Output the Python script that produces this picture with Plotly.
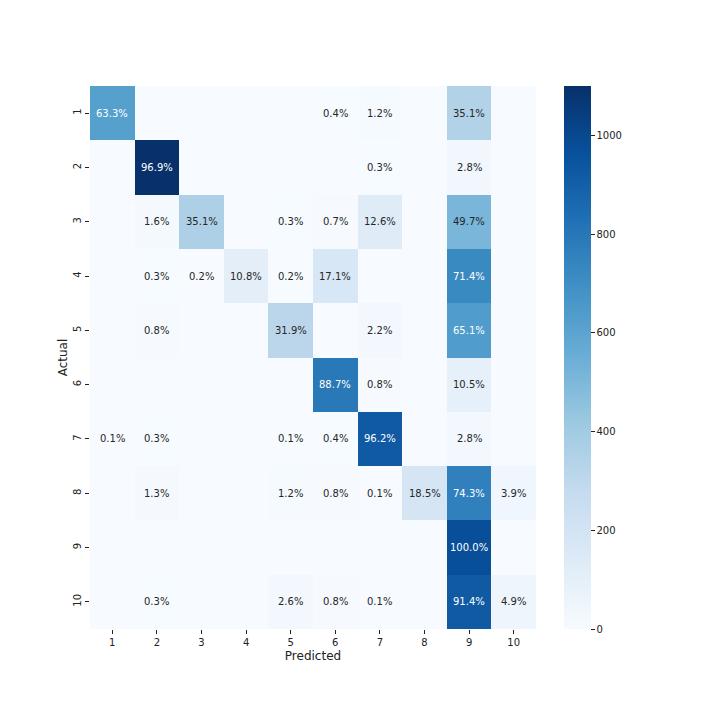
import plotly.graph_objects as go

labels = ["1", "2", "3", "4", "5", "6", "7", "8", "9", "10"]

# rows = actual class, columns = predicted class (cell counts)
counts = [
    [620, 0, 0, 0, 0, 4, 12, 0, 344, 0],
    [0, 1100, 0, 0, 0, 0, 3, 0, 32, 0],
    [0, 17, 362, 0, 3, 7, 130, 0, 513, 0],
    [0, 3, 2, 109, 2, 173, 0, 0, 721, 0],
    [0, 8, 0, 0, 313, 0, 22, 0, 639, 0],
    [0, 0, 0, 0, 0, 791, 7, 0, 94, 0],
    [1, 3, 0, 0, 1, 4, 922, 0, 27, 0],
    [0, 13, 0, 0, 12, 8, 1, 190, 764, 40],
    [0, 0, 0, 0, 0, 0, 0, 0, 974, 0],
    [0, 3, 0, 0, 26, 8, 1, 0, 922, 49],
]

blues = [
    [0.0, "#f7fbff"], [0.125, "#deebf7"], [0.25, "#c6dbef"],
    [0.375, "#9ecae1"], [0.5, "#6baed6"], [0.625, "#4292c6"],
    [0.75, "#2171b5"], [0.875, "#08519c"], [1.0, "#08306b"],
]

pos = list(range(1, len(labels) + 1))
zmax = max(max(r) for r in counts)

fig = go.Figure(go.Heatmap(
    z=counts, x=pos, y=pos,
    colorscale=blues, zmin=0, zmax=zmax,
    hoverinfo="skip",
    colorbar=dict(
        thickness=27, len=1, lenmode="fraction",
        x=(564 - 90) / 446, xanchor="left", xpad=0,
        y=0.5, yanchor="middle", ypad=0,
        outlinewidth=0, ticks="outside", ticklen=4, tickcolor="#222",
        tickvals=[0, 200, 400, 600, 800, 1000],
        tickfont=dict(size=10, color="#222"),
    ),
))

annos = []
for i, row in enumerate(counts):
    total = sum(row)
    for j, v in enumerate(row):
        if v == 0:
            continue
        annos.append(dict(
            x=pos[j], y=pos[i], xref="x", yref="y",
            text=f"{100 * v / total:.1f}%", showarrow=False,
            font=dict(size=10, color="white" if v / zmax > 0.5 else "#262626"),
        ))

fig.update_layout(
    width=720, height=720,
    margin=dict(l=82, r=192, t=78, b=99),
    paper_bgcolor="white", plot_bgcolor="white",
    font=dict(family="DejaVu Sans", size=10, color="#222"),
    annotations=annos,
    xaxis=dict(
        range=[0.5, 10.5], tickvals=pos, ticktext=labels, automargin=False,
        title=dict(text="Predicted", standoff=4),
        ticks="outside", ticklen=4, tickcolor="#222", showgrid=False, zeroline=False,
    ),
    yaxis=dict(
        range=[10.5, 0.5], tickvals=pos, ticktext=labels, automargin=False,
        title=dict(text="Actual", standoff=1), tickangle=-90,
        ticks="outside", ticklen=4, tickcolor="#222", showgrid=False, zeroline=False,
    ),
)

fig.write_html("out.html")
